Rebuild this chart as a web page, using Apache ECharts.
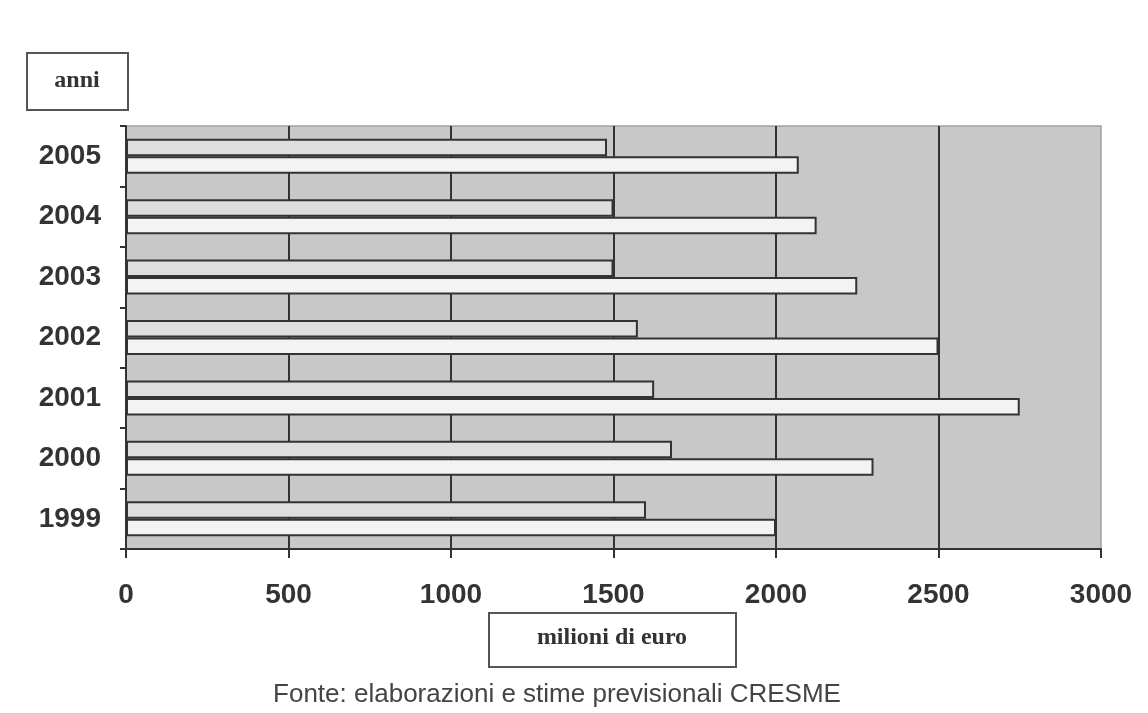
<!DOCTYPE html>
<html>
<head>
<meta charset="utf-8">
<script src="https://cdn.jsdelivr.net/npm/echarts@6/dist/echarts.min.js"></script>
<style>html,body{margin:0;padding:0;background:#fff;}#c{width:1148px;height:713px;}</style>
</head>
<body>
<div id="c"></div>
<script>
const years = ['1999', '2000', '2001', '2002', '2003', '2004', '2005'];
const seriesUpper = [1600, 1680, 1625, 1575, 1500, 1500, 1480];
const seriesLower = [2000, 2300, 2750, 2500, 2250, 2125, 2070];
const xTicks = { min: 0, max: 3000, interval: 500 };

const chart = echarts.init(document.getElementById('c'), null, { renderer: 'canvas' });
const dark = '#333333';
chart.setOption({
  animation: false,
  backgroundColor: '#ffffff',
  grid: { left: 126, top: 126, width: 975, height: 423, show: true, backgroundColor: '#c8c8c8', borderWidth: 1.5, borderColor: '#a0a0a0' },
  xAxis: {
    type: 'value', min: xTicks.min, max: xTicks.max, interval: xTicks.interval,
    axisLine: { show: true, lineStyle: { color: dark, width: 2 } },
    axisTick: { show: true, length: 9, lineStyle: { color: dark, width: 2 } },
    axisLabel: { color: dark, fontFamily: 'Liberation Sans', fontWeight: 'bold', fontSize: 28, margin: 32,
      formatter: v => String(v) },
    splitLine: { show: true, showMaxLine: false, lineStyle: { color: dark, width: 2 } }
  },
  yAxis: {
    type: 'category', data: years,
    axisLine: { show: true, lineStyle: { color: dark, width: 2 } },
    axisTick: { show: true, length: 6, inside: false, lineStyle: { color: dark, width: 2 } },
    axisLabel: { color: dark, fontFamily: 'Liberation Sans', fontWeight: 'bold', fontSize: 28, margin: 25 },
    splitLine: { show: false }
  },
  series: [
    { type: 'bar', data: seriesUpper, barWidth: 17.5, barGap: '0%',
      itemStyle: { color: '#dedede', borderColor: '#333', borderWidth: 2 } },
    { type: 'bar', data: seriesLower, barWidth: 17.5, barGap: '0%',
      itemStyle: { color: '#f3f3f3', borderColor: '#333', borderWidth: 2 } }
  ],
  graphic: [
    { type: 'rect', shape: { x: 27, y: 53, width: 101, height: 57 }, style: { fill: '#fff', stroke: '#555', lineWidth: 2 } },
    { type: 'text', x: 77, y: 81, style: { text: 'anni', fontFamily: 'Liberation Serif', fontWeight: 'bold', fontSize: 24, fill: '#333', align: 'center', verticalAlign: 'middle' } },
    { type: 'rect', shape: { x: 489, y: 613, width: 247, height: 54 }, style: { fill: '#fff', stroke: '#555', lineWidth: 2 } },
    { type: 'text', x: 612, y: 638, style: { text: 'milioni di euro', fontFamily: 'Liberation Serif', fontWeight: 'bold', fontSize: 24, fill: '#333', align: 'center', verticalAlign: 'middle' } },
    { type: 'text', x: 557, y: 695, style: { text: 'Fonte: elaborazioni e stime previsionali CRESME', fontFamily: 'Liberation Sans', fontSize: 26, fill: '#444', align: 'center', verticalAlign: 'middle' } }
  ]
});
</script>
</body>
</html>
